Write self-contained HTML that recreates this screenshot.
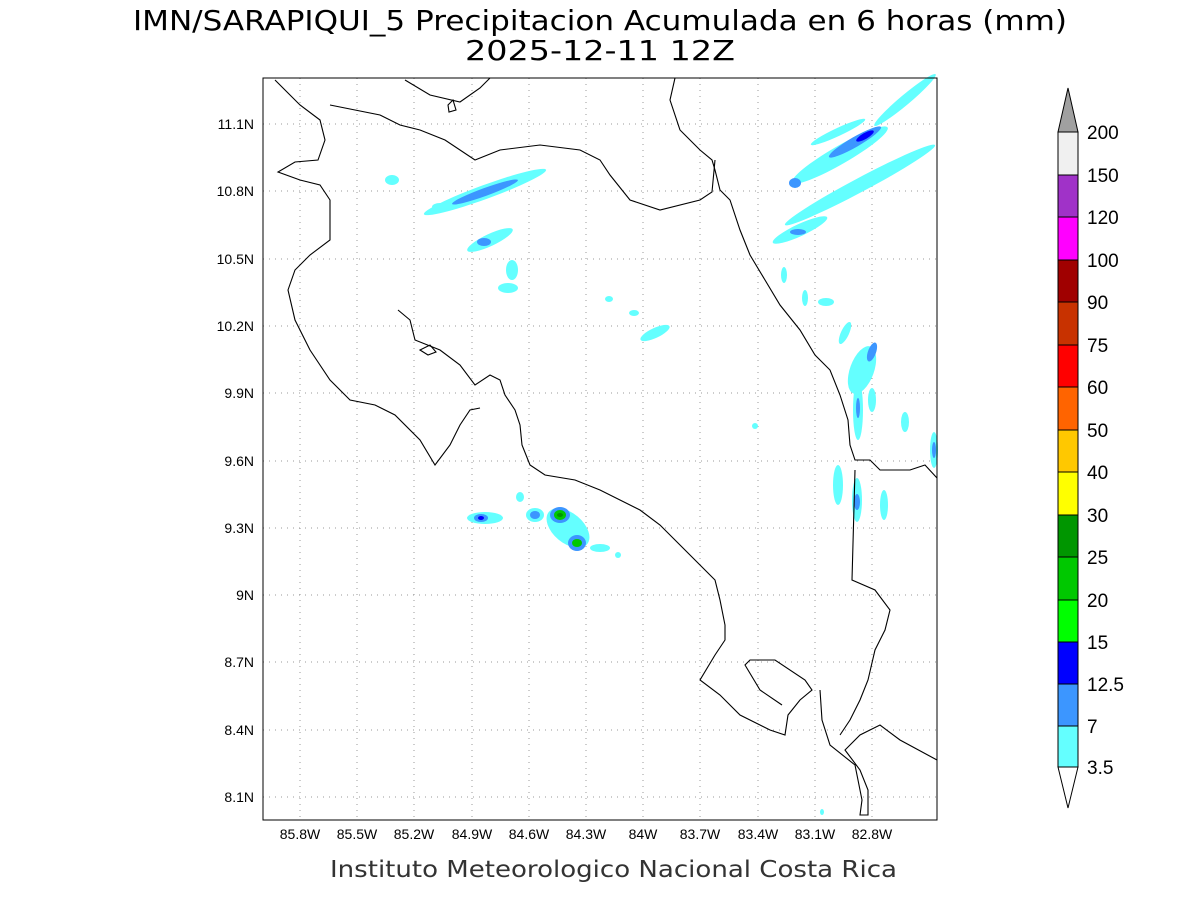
<!DOCTYPE html>
<html><head><meta charset="utf-8"><style>
html,body{margin:0;padding:0;background:#fff;}
svg text{font-family:"Liberation Sans","DejaVu Sans",sans-serif;}
</style></head><body>
<svg width="1200" height="900" viewBox="0 0 1200 900" xmlns="http://www.w3.org/2000/svg">
<rect width="1200" height="900" fill="#fff"/>
<text x="133" y="30" textLength="934" lengthAdjust="spacingAndGlyphs" font-size="28" fill="#000" style="font-family:'DejaVu Sans',sans-serif">IMN/SARAPIQUI_5 Precipitacion Acumulada en 6 horas (mm)</text>
<text x="465" y="60" textLength="270" lengthAdjust="spacingAndGlyphs" font-size="28" fill="#000" style="font-family:'DejaVu Sans',sans-serif">2025-12-11 12Z</text>
<g stroke="#999" stroke-width="1" stroke-dasharray="1,5">
<line x1="300" y1="78" x2="300" y2="820"/><line x1="357" y1="78" x2="357" y2="820"/><line x1="414" y1="78" x2="414" y2="820"/><line x1="472" y1="78" x2="472" y2="820"/><line x1="529" y1="78" x2="529" y2="820"/><line x1="586" y1="78" x2="586" y2="820"/><line x1="643" y1="78" x2="643" y2="820"/><line x1="700" y1="78" x2="700" y2="820"/><line x1="758" y1="78" x2="758" y2="820"/><line x1="815" y1="78" x2="815" y2="820"/><line x1="872" y1="78" x2="872" y2="820"/>
<line x1="263" y1="124" x2="937" y2="124"/><line x1="263" y1="191" x2="937" y2="191"/><line x1="263" y1="259" x2="937" y2="259"/><line x1="263" y1="326" x2="937" y2="326"/><line x1="263" y1="393" x2="937" y2="393"/><line x1="263" y1="461" x2="937" y2="461"/><line x1="263" y1="528" x2="937" y2="528"/><line x1="263" y1="595" x2="937" y2="595"/><line x1="263" y1="662" x2="937" y2="662"/><line x1="263" y1="730" x2="937" y2="730"/><line x1="263" y1="797" x2="937" y2="797"/>
</g>
<g>
<ellipse cx="485" cy="192" rx="65" ry="7" transform="rotate(-20 485 192)" fill="#64ffff"/>
<ellipse cx="485" cy="192" rx="35" ry="4" transform="rotate(-20 485 192)" fill="#3c96ff"/>
<ellipse cx="490" cy="240" rx="25" ry="6" transform="rotate(-25 490 240)" fill="#64ffff"/>
<ellipse cx="484" cy="242" rx="7" ry="4" fill="#3c96ff"/>
<ellipse cx="512" cy="270" rx="6" ry="10" fill="#64ffff"/>
<ellipse cx="508" cy="288" rx="10" ry="5" fill="#64ffff"/>
<ellipse cx="655" cy="333" rx="16" ry="5" transform="rotate(-25 655 333)" fill="#64ffff"/>
<ellipse cx="392" cy="180" rx="7" ry="5" fill="#64ffff"/>
<ellipse cx="440" cy="207" rx="8" ry="4" fill="#64ffff"/>
<ellipse cx="840" cy="155" rx="55" ry="9" transform="rotate(-30 840 155)" fill="#64ffff"/>
<ellipse cx="855" cy="142" rx="30" ry="5" transform="rotate(-30 855 142)" fill="#3c96ff"/>
<ellipse cx="865" cy="136" rx="10" ry="3" transform="rotate(-30 865 136)" fill="#0000ff"/>
<ellipse cx="905" cy="100" rx="40" ry="5" transform="rotate(-40 905 100)" fill="#64ffff"/>
<ellipse cx="838" cy="132" rx="30" ry="4" transform="rotate(-25 838 132)" fill="#64ffff"/>
<ellipse cx="795" cy="183" rx="6" ry="5" fill="#3c96ff"/>
<ellipse cx="860" cy="185" rx="85" ry="7" transform="rotate(-28 860 185)" fill="#64ffff"/>
<ellipse cx="800" cy="230" rx="30" ry="6" transform="rotate(-25 800 230)" fill="#64ffff"/>
<ellipse cx="798" cy="232" rx="8" ry="3" fill="#3c96ff"/>
<ellipse cx="784" cy="275" rx="3" ry="8" fill="#64ffff"/>
<ellipse cx="805" cy="298" rx="3" ry="8" fill="#64ffff"/>
<ellipse cx="826" cy="302" rx="8" ry="4" fill="#64ffff"/>
<ellipse cx="845" cy="333" rx="4" ry="12" transform="rotate(25 845 333)" fill="#64ffff"/>
<ellipse cx="862" cy="370" rx="12" ry="25" transform="rotate(20 862 370)" fill="#64ffff"/>
<ellipse cx="872" cy="352" rx="4" ry="10" transform="rotate(20 872 352)" fill="#3c96ff"/>
<ellipse cx="858" cy="410" rx="5" ry="30" fill="#64ffff"/>
<ellipse cx="858" cy="408" rx="2" ry="10" fill="#3c96ff"/>
<ellipse cx="872" cy="400" rx="4" ry="12" fill="#64ffff"/>
<ellipse cx="905" cy="422" rx="4" ry="10" fill="#64ffff"/>
<ellipse cx="838" cy="485" rx="5" ry="20" fill="#64ffff"/>
<ellipse cx="857" cy="500" rx="5" ry="22" fill="#64ffff"/>
<ellipse cx="857" cy="502" rx="3" ry="8" fill="#3c96ff"/>
<ellipse cx="884" cy="505" rx="4" ry="15" fill="#64ffff"/>
<ellipse cx="934" cy="450" rx="4" ry="18" fill="#64ffff"/>
<ellipse cx="934" cy="450" rx="2" ry="8" fill="#3c96ff"/>
<ellipse cx="485" cy="518" rx="18" ry="6" fill="#64ffff"/>
<ellipse cx="481" cy="518" rx="7" ry="4" fill="#3c96ff"/>
<ellipse cx="481" cy="518" rx="3" ry="2" fill="#0000ff"/>
<ellipse cx="535" cy="515" rx="9" ry="7" fill="#64ffff"/>
<ellipse cx="535" cy="515" rx="5" ry="4" fill="#3c96ff"/>
<ellipse cx="520" cy="497" rx="4" ry="5" fill="#64ffff"/>
<ellipse cx="568" cy="528" rx="25" ry="15" transform="rotate(40 568 528)" fill="#64ffff"/>
<ellipse cx="560" cy="515" rx="10" ry="8" fill="#3c96ff"/>
<ellipse cx="560" cy="515" rx="6" ry="5" fill="#00c800"/>
<ellipse cx="560" cy="515" rx="3" ry="2" fill="#009600"/>
<ellipse cx="577" cy="543" rx="9" ry="8" fill="#3c96ff"/>
<ellipse cx="577" cy="543" rx="5" ry="4" fill="#00c800"/>
<ellipse cx="600" cy="548" rx="10" ry="4" fill="#64ffff"/>
<ellipse cx="618" cy="555" rx="3" ry="3" fill="#64ffff"/>
<ellipse cx="609" cy="299" rx="4" ry="3" fill="#64ffff"/>
<ellipse cx="634" cy="313" rx="5" ry="3" fill="#64ffff"/>
<ellipse cx="755" cy="426" rx="3" ry="3" fill="#64ffff"/>
<ellipse cx="822" cy="812" rx="2" ry="3" fill="#64ffff"/>
</g>
<g fill="none" stroke="#000" stroke-width="1.1">
<polyline points="275,80 300,105 320,120 325,140 318,160 295,162 278,172 300,180 320,185 330,200 330,240 310,255 295,270 288,290 295,320 310,350 330,380 350,400 375,405 395,415 420,440 435,465 450,445 460,425 470,410 480,408"/>
<polyline points="398,310 410,320 415,340 440,350 460,365 475,385 490,375 500,380 505,395 515,410 520,425 522,445 530,465 545,475 575,480 600,490 620,500 640,510 660,525 680,545 700,565 715,580 720,600 725,625 725,640 715,655 700,680 720,695 740,715 770,730 785,735 788,715 800,700 812,690 805,680 775,660 750,660 745,665 760,690 782,705"/>
<polyline points="820,690 822,720 830,745 855,765 862,800 860,815 868,815 868,790 860,770 845,750 860,735 880,725 900,740 937,760"/>
<polyline points="675,78 670,100 680,130 700,150 712,160 715,170 720,190 730,200 740,230 750,255 765,280 780,305 800,330 815,355 830,370 840,395 848,420 850,445 855,460 870,460 880,470 910,470 925,465 937,478"/>
<polyline points="855,470 852,580 875,590 890,610 885,630 875,650 868,680 860,700 850,720 840,735"/>
<polyline points="330,105 380,115 400,125 420,130 445,140 475,160 500,150 540,145 580,150 600,160 610,175 630,200 660,210 700,200 712,192 715,160"/>
<polyline points="405,80 430,95 460,102 480,88 490,78"/>
<polygon points="448,105 453,100 456,110 449,112"/>
<polygon points="420,350 430,345 436,352 428,355"/>
</g>
<rect x="263" y="78" width="674" height="742" fill="none" stroke="#000" stroke-width="1"/>
<g font-size="14" fill="#000" text-anchor="end">
<text x="254" y="129">11.1N</text><text x="254" y="196">10.8N</text><text x="254" y="264">10.5N</text><text x="254" y="331">10.2N</text><text x="254" y="398">9.9N</text><text x="254" y="466">9.6N</text><text x="254" y="533">9.3N</text><text x="254" y="600">9N</text><text x="254" y="667">8.7N</text><text x="254" y="735">8.4N</text><text x="254" y="802">8.1N</text>
</g>
<g font-size="14" fill="#000" text-anchor="middle">
<text x="300" y="839">85.8W</text><text x="357" y="839">85.5W</text><text x="414" y="839">85.2W</text><text x="472" y="839">84.9W</text><text x="529" y="839">84.6W</text><text x="586" y="839">84.3W</text><text x="643" y="839">84W</text><text x="700" y="839">83.7W</text><text x="758" y="839">83.4W</text><text x="815" y="839">83.1W</text><text x="872" y="839">82.8W</text>
</g>
<text x="330" y="877" textLength="567" lengthAdjust="spacingAndGlyphs" font-size="23" fill="#333" style="font-family:'DejaVu Sans',sans-serif">Instituto Meteorologico Nacional Costa Rica</text>
<g stroke="#000" stroke-width="1">
<polygon points="1058,132 1068,88 1078,132" fill="#a0a0a0"/>
<rect x="1058" y="132" width="20" height="43" fill="#f0f0f0"/>
<rect x="1058" y="175" width="20" height="42" fill="#a032c8"/>
<rect x="1058" y="217" width="20" height="43" fill="#ff00ff"/>
<rect x="1058" y="260" width="20" height="42" fill="#a00000"/>
<rect x="1058" y="302" width="20" height="43" fill="#c83200"/>
<rect x="1058" y="345" width="20" height="42" fill="#ff0000"/>
<rect x="1058" y="387" width="20" height="43" fill="#ff6400"/>
<rect x="1058" y="430" width="20" height="42" fill="#ffc800"/>
<rect x="1058" y="472" width="20" height="43" fill="#ffff00"/>
<rect x="1058" y="515" width="20" height="42" fill="#009600"/>
<rect x="1058" y="557" width="20" height="43" fill="#00c800"/>
<rect x="1058" y="600" width="20" height="42" fill="#00ff00"/>
<rect x="1058" y="642" width="20" height="42" fill="#0000ff"/>
<rect x="1058" y="684" width="20" height="42" fill="#3c96ff"/>
<rect x="1058" y="726" width="20" height="41" fill="#64ffff"/>
<polygon points="1058,767 1068,808 1078,767" fill="#fff"/>
</g>
<g font-size="19" fill="#000">
<text x="1087" y="139">200</text><text x="1087" y="182">150</text><text x="1087" y="224">120</text><text x="1087" y="267">100</text><text x="1087" y="309">90</text><text x="1087" y="352">75</text><text x="1087" y="394">60</text><text x="1087" y="437">50</text><text x="1087" y="479">40</text><text x="1087" y="522">30</text><text x="1087" y="564">25</text><text x="1087" y="607">20</text><text x="1087" y="649">15</text><text x="1087" y="691">12.5</text><text x="1087" y="733">7</text><text x="1087" y="774">3.5</text>
</g>
</svg>
</body></html>
